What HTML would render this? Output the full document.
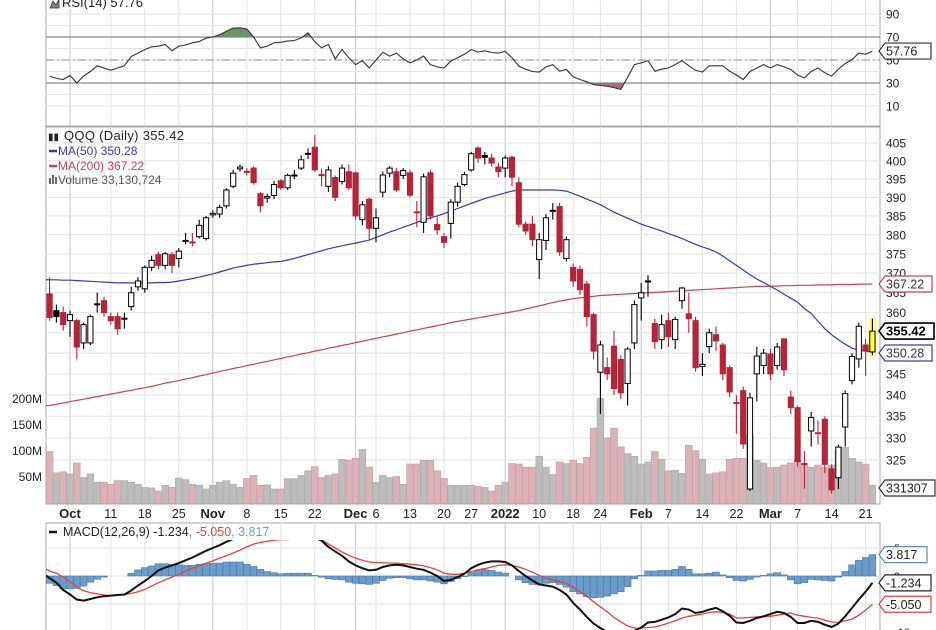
<!DOCTYPE html>
<html><head><meta charset="utf-8">
<style>
html,body{margin:0;padding:0;background:#fff;}
svg{display:block;font-family:"Liberation Sans",sans-serif;}
</style></head>
<body>
<svg id="chart" width="936" height="630" viewBox="0 0 936 630" xmlns="http://www.w3.org/2000/svg">
<rect width="936" height="630" fill="#fff"/>
<g id="grid"></g>
<g id="rsi"></g>
<g id="vol"></g>
<g id="price"></g>
<g id="macd"></g>
<g id="axes"></g>
</svg>
<script>
const opens=[364.7,360.5,360.0,358.0,358.0,352.5,352.5,362.0,363.0,359.0,359.0,358.5,361.5,366.5,366.0,371.5,374.8,372.0,374.8,373.8,378.3,378.0,379.5,379.0,385.3,385.5,387.7,393.0,397.8,397.0,398.0,391.0,389.8,390.5,394.5,392.6,396.0,398.0,402.0,403.8,396.2,393.0,395.4,394.3,397.0,396.7,384.0,389.5,381.7,391.4,396.6,397.0,396.0,396.7,386.0,383.3,396.7,382.7,379.5,383.0,388.7,393.5,397.5,403.6,401.5,400.8,398.3,398.0,401.0,394.0,382.8,382.8,373.5,378.5,386.5,387.5,373.8,371.5,371.0,367.2,359.5,345.4,346.5,351.7,348.5,342.7,352.5,363.7,367.8,357.3,353.3,358.0,353.3,363.0,359.7,358.0,346.8,351.6,354.5,352.0,346.5,338.2,341.0,318.5,345.0,347.0,349.8,347.0,353.5,339.5,337.0,324.2,331.6,331.2,334.3,323.0,321.0,332.5,343.4,348.6,352.0,350.3];
const closes=[358.8,359.0,357.0,359.5,351.5,357.0,359.0,362.2,360.0,358.0,356.0,358.6,365.0,368.0,371.5,373.3,372.0,375.0,372.0,375.7,378.5,378.1,382.5,384.5,385.7,387.3,392.0,396.6,398.3,397.1,394.0,387.7,390.2,393.5,392.6,396.0,396.1,400.3,402.1,397.5,396.0,397.5,390.0,398.0,392.6,385.0,388.0,381.7,384.5,396.1,398.0,392.0,397.3,390.6,386.1,395.6,385.0,381.3,378.0,388.7,393.0,396.2,402.0,400.8,401.0,399.4,397.0,400.8,395.5,382.8,381.0,378.7,378.7,384.5,386.3,375.5,378.7,368.0,365.8,359.0,350.5,352.0,345.0,341.5,340.5,351.0,362.0,365.0,368.0,352.8,357.0,354.0,358.3,366.2,358.5,346.5,347.3,355.0,353.0,345.0,340.7,338.0,328.6,339.3,349.3,350.0,345.0,351.5,346.0,337.0,324.6,324.0,334.7,331.0,324.0,318.3,327.9,340.3,349.2,356.6,350.5,355.4];
const highs=[368.9,362.0,361.5,360.5,358.5,357.5,359.5,365.0,364.0,360.0,360.0,360.0,366.5,369.0,372.0,374.5,375.5,375.5,375.5,376.5,380.5,380.5,384.0,385.0,386.5,388.0,392.5,397.5,399.0,398.0,398.5,391.5,391.0,394.5,395.0,396.5,397.5,401.5,403.5,407.3,397.8,398.5,396.0,399.0,399.0,397.0,389.0,390.0,387.0,397.0,398.5,398.0,398.0,397.5,389.0,396.5,397.5,385.0,380.5,389.5,394.0,397.0,402.5,404.0,402.5,402.0,399.5,401.5,401.5,395.5,383.5,385.0,380.5,385.5,388.5,388.5,379.5,372.5,372.0,368.0,360.0,353.0,349.0,355.5,349.5,351.5,363.0,367.5,369.5,358.5,359.5,360.0,359.0,366.5,365.0,359.0,350.0,356.0,356.5,352.5,347.0,340.0,342.0,340.5,351.5,351.0,351.0,352.5,353.5,341.0,337.5,327.0,336.0,334.0,335.0,324.0,328.5,341.0,350.0,357.5,353.5,358.5];
const lows=[358.0,357.5,355.5,354.0,348.5,351.0,352.0,360.0,359.0,357.0,354.5,356.0,360.5,365.5,365.0,370.5,371.0,371.0,370.0,371.5,377.5,377.0,379.0,378.5,384.5,384.5,387.0,392.5,397.0,396.0,393.5,386.0,388.5,389.5,392.0,392.0,395.0,397.5,400.5,397.0,393.0,391.5,389.0,393.5,392.0,384.0,382.5,378.5,378.0,390.0,395.5,391.5,395.0,390.0,382.0,380.5,384.0,380.0,376.5,379.0,387.5,393.0,397.0,399.5,399.0,398.5,395.5,395.5,393.0,382.0,380.0,377.0,368.5,376.0,384.0,374.5,373.0,366.5,364.5,356.5,348.5,335.5,343.5,340.0,339.0,337.5,351.0,358.0,364.0,351.0,351.0,351.5,351.0,361.0,355.0,345.5,344.5,350.0,350.5,343.5,339.5,331.0,327.5,318.0,338.5,345.0,343.5,346.0,344.5,335.5,323.5,318.5,328.0,328.5,322.0,317.5,318.5,328.0,342.5,346.5,344.5,349.5];
const volumes=[98,57,59,55,76,48,55,39,39,35,42,42,39,35,29,28,22,33,29,47,44,35,33,26,33,39,42,35,29,46,52,33,34,26,26,46,46,52,61,69,48,52,55,83,81,85,102,68,39,52,48,50,35,74,74,81,81,61,46,33,33,33,33,31,29,22,33,39,75,74,68,68,89,68,54,78,75,81,75,87,143,200,124,143,107,94,89,74,78,98,83,61,62,56,110,100,83,55,57,59,83,85,85,130,81,76,67,68,72,76,81,72,68,72,68,72,100,106,85,78,74,33];
const ma50=[368.3,368.3,368.2,368.2,368.1,368.0,367.9,367.8,367.7,367.6,367.5,367.5,367.5,367.5,367.5,367.5,367.6,367.6,367.7,368.0,368.3,368.6,369.0,369.4,369.8,370.3,370.8,371.3,371.7,372.0,372.3,372.5,372.7,372.9,373.0,373.4,373.8,374.3,374.8,375.3,375.8,376.3,376.7,377.1,377.5,377.8,378.2,378.6,379.3,380.0,380.7,381.3,382.0,382.6,383.3,383.9,384.5,385.0,385.6,386.3,387.0,387.7,388.4,389.0,389.7,390.2,390.7,391.2,391.7,392.0,392.0,392.0,392.0,392.0,392.0,391.9,391.7,391.0,390.3,389.5,388.8,388.0,387.0,386.0,385.2,384.4,383.6,382.8,382.2,381.6,381.0,380.3,379.7,379.0,378.2,377.5,376.8,376.2,375.5,374.4,373.2,372.0,370.8,369.6,368.5,367.6,366.6,365.7,364.6,363.6,362.6,361.0,359.8,357.8,356.0,354.5,353.3,352.2,351.2,350.8,350.5,350.28];
const ma200=[337.5,337.8,338.1,338.4,338.7,339.0,339.3,339.6,339.9,340.2,340.5,340.8,341.1,341.4,341.7,342.0,342.4,342.8,343.1,343.4,343.8,344.1,344.5,344.8,345.2,345.6,345.9,346.3,346.6,347.0,347.3,347.7,348.0,348.4,348.7,349.1,349.4,349.8,350.1,350.5,350.8,351.2,351.5,351.9,352.2,352.6,352.9,353.3,353.6,354.0,354.3,354.7,355.0,355.4,355.7,356.1,356.4,356.8,357.1,357.5,357.8,358.1,358.4,358.7,359.0,359.3,359.6,359.9,360.2,360.5,360.9,361.3,361.7,362.1,362.5,362.9,363.2,363.5,363.7,363.9,364.1,364.3,364.4,364.5,364.6,364.7,364.8,364.9,365.0,365.1,365.2,365.3,365.4,365.5,365.6,365.7,365.8,365.9,366.0,366.1,366.2,366.3,366.4,366.5,366.6,366.6,366.7,366.7,366.8,366.8,366.9,366.9,366.9,367.0,367.0,367.0,367.1,367.1,367.1,367.2,367.2,367.22];
const rsi=[36,34,33,36.5,30,36,40,45,43,41,43,45,53,56,59,61.5,62,63.5,58,62,63,65,66,69,70,72,75,77.8,78,77,70,60.5,62,65,65.5,66.4,67,69.2,73.6,66,60.5,63.5,51,59,52,46,49.5,43,50,56.7,53.4,56,51,47.5,50,53.4,46,44,43,49,52,55,59,57,58,56.5,56,57.5,52,44.8,42,40,39.6,44,46,40.3,41.7,35.4,33,31,28.5,27.8,27.2,26,24.4,35,46,47.5,49.5,40.3,42,43,46,49.5,45,41,39.6,45,45,45,40.3,37,33,40,43,46,43,46,44,41.7,37,34.4,40,43,39,36,42,47,50.3,56,55,57.76];
const macdLine=[-0.4,-1.2,-2.5,-3.3,-4.2,-4.4,-4.1,-3.8,-3.6,-3.5,-3.4,-3.3,-2.6,-1.7,-0.9,0.0,1.0,1.5,1.9,2.3,2.8,3.3,3.9,4.5,5.0,5.5,6.1,6.6,7.1,7.3,7.4,7.2,7.0,7.0,6.9,7.0,7.1,7.2,7.3,6.9,6.3,5.2,4.4,3.6,2.6,1.9,1.4,1.0,1.1,1.6,1.9,2.0,1.9,1.6,1.3,1.1,0.6,0.0,-0.9,-0.7,-0.2,0.4,1.4,2.0,2.4,2.6,2.6,2.5,1.9,0.9,0.0,-0.8,-1.5,-1.7,-1.9,-2.5,-3.3,-4.8,-6.0,-7.3,-8.5,-9.3,-10.0,-10.6,-11.0,-10.8,-9.8,-9.2,-8.3,-8.2,-7.8,-7.4,-6.8,-5.8,-6.0,-6.6,-6.4,-6.0,-5.7,-6.3,-7.1,-8.3,-8.4,-8.0,-7.5,-7.2,-6.8,-6.4,-6.6,-7.3,-8.4,-8.4,-8.0,-8.2,-8.7,-9.1,-8.5,-7.2,-5.7,-4.2,-2.8,-1.234];
const signalLine=[0.9,0.5,-0.2,-1.0,-2.0,-2.6,-3.0,-3.2,-3.4,-3.5,-3.4,-3.3,-3.1,-2.8,-2.4,-1.8,-1.2,-0.7,-0.2,0.3,0.9,1.4,1.8,2.3,2.7,3.2,3.6,4.1,4.6,5.2,5.7,6.0,6.2,6.4,6.5,6.5,6.6,6.7,6.8,6.8,6.5,5.7,5.0,4.3,3.7,3.2,2.8,2.5,2.4,2.4,2.3,2.3,2.2,2.1,2.0,1.8,1.5,1.1,0.5,0.3,0.3,0.5,0.8,1.1,1.3,1.6,1.9,2.0,1.9,1.6,1.2,0.7,0.1,-0.4,-0.7,-1.0,-1.3,-2.0,-2.8,-3.6,-4.6,-5.5,-6.4,-7.4,-8.2,-8.9,-9.3,-9.3,-9.2,-9.1,-8.8,-8.4,-8.0,-7.5,-7.2,-7.0,-6.8,-6.5,-6.4,-6.5,-6.8,-7.5,-7.5,-7.4,-7.3,-7.3,-7.2,-7.0,-6.8,-6.6,-7.0,-7.2,-7.4,-7.5,-7.9,-8.2,-8.3,-8.0,-7.7,-7.0,-6.1,-5.05];
const priceTicks=[405,400,395,390,385,380,375,370,365,360,345,340,335,330,325];
const volTicks=[200,150,100,50];
const volTickLabels=["200M","150M","100M","50M"];
const rsiTicks=[90,70,50,30,10];
const rsiTickLabels=["90","70","50","30","10"];
const macdTicks=[5,0,-10];
const dateIdx=[3,9,14,19,24,29,34,39,45,48,53,58,62,67,72,77,81,87,91,96,101,106,110,115,120];
const dateLabels=["Oct","11","18","25","Nov","8","15","22","Dec","6","13","20","27","2022","10","18","24","Feb","7","14","22","Mar","7","14","21"];
const monthIdx=[3,24,45,67,87,106];

const NS="http://www.w3.org/2000/svg";
const L=46,R=880;
function xAt(i){return 49.6+6.8*i;}
function yP(p){return 143+1440*Math.log(405/p);}
function yV(v){return 502.5-v*0.52;}
function yR(v){return 60-(v-50)*1.15;}
function yM(v){return 576-v*5.6;}
function mk(parent,tag,attrs,text){const e=document.createElementNS(NS,tag);for(const k in attrs)e.setAttribute(k,attrs[k]);if(text!==undefined)e.textContent=text;document.getElementById(parent).appendChild(e);return e;}

// defs/clips
const defs=document.createElementNS(NS,'defs');
defs.innerHTML='<clipPath id="cMain"><rect x="46" y="127" width="834" height="377"/></clipPath><clipPath id="cMacd"><rect x="46" y="540" width="834" height="90"/></clipPath><clipPath id="cRsiHi"><rect x="46" y="0" width="834" height="'+yR(70)+'"/></clipPath><clipPath id="cRsiLo"><rect x="46" y="'+yR(30)+'" width="834" height="40"/></clipPath>';
document.getElementById('chart').insertBefore(defs,document.getElementById('grid'));

// panel frames
let e;
e=mk('grid','rect',{x:L,y:-1,width:R-L,height:127,fill:'#fff',stroke:'#a8a8a8'});


e=mk('grid','rect',{x:L,y:127,width:R-L,height:377,fill:'#fff',stroke:'#a8a8a8'});


e=mk('grid','rect',{x:L,y:523,width:R-L,height:110,fill:'#fff',stroke:'#a8a8a8'});



// vertical grid
dateIdx.forEach(i=>{
  const isM=monthIdx.includes(i);
  [[0,126],[127,504],[523,630]].forEach(r=>{
    e=mk('grid','line',{x1:xAt(i),x2:xAt(i),y1:r[0],y2:r[1],stroke:isM?'#c4c4c4':'#e2e2e2','stroke-width':1});
    
    
  });
});
// horizontal price grid
for(let p=325;p<=405;p+=5){
  e=mk('grid','line',{x1:L,x2:R,y1:yP(p),y2:yP(p),stroke:'#e2e2e2'});
  
  
}
for(let v=10;v<=90;v+=10){
  e=mk('grid','line',{x1:L,x2:R,y1:yR(v),y2:yR(v),stroke:'#e6e6e6'});
  
  
}
[5,0,-5,-10].forEach(v=>{
  e=mk('grid','line',{x1:L,x2:R,y1:yM(v),y2:yM(v),stroke:'#e2e2e2'});
  
  
});

// RSI
[70,30].forEach(v=>{
  e=mk('rsi','line',{x1:L,x2:R,y1:yR(v),y2:yR(v),stroke:'#888','stroke-width':1.3});
  
  
});
e=mk('rsi','line',{x1:L,x2:R,y1:yR(50),y2:yR(50),stroke:'#888','stroke-dasharray':'8,3,2,3'});


let rp=rsi.map((v,i)=>xAt(i).toFixed(1)+','+yR(v).toFixed(1)).join(' L');
e=mk('rsi','path',{d:'M'+xAt(0)+','+yR(70)+' L'+rp+' L'+xAt(rsi.length-1)+','+yR(70)+'Z',fill:'#6b936b','clip-path':'url(#cRsiHi)'});


e=mk('rsi','path',{d:'M'+xAt(0)+','+yR(30)+' L'+rp+' L'+xAt(rsi.length-1)+','+yR(30)+'Z',fill:'#a97070','clip-path':'url(#cRsiLo)'});


e=mk('rsi','path',{d:'M'+rp,fill:'none',stroke:'#333','stroke-width':1.1});



// volume
volumes.forEach((v,i)=>{
  const prev=i===0?366:closes[i-1];
  const down=closes[i]<prev;
  e=mk('vol','rect',{x:xAt(i)-3.4,y:yV(v),width:6.8,height:Math.max(0,503.5-yV(v)),fill:down?'#dbb3b7':'#bdbdbd',stroke:down?'#c99aa0':'#a9a9a9','stroke-width':0.6});
  
  
});

// last candle highlight
const last=closes.length-1;
e=mk('price','rect',{x:xAt(last)-4,y:yP(highs[last])-1,width:8,height:yP(lows[last])-yP(highs[last])+2,fill:'#ffff80'});



// moving averages
function linePath(arr,fy){return 'M'+arr.map((v,i)=>xAt(i).toFixed(1)+','+fy(v).toFixed(1)).join(' L');}
e=mk('price','path',{d:'M'+L+','+yP(ma200[0])+' L'+linePath(ma200,yP).slice(1),fill:'none',stroke:'#c94452','stroke-width':1.2,'clip-path':'url(#cMain)'});


e=mk('price','path',{d:'M'+L+','+yP(ma50[0])+' L'+linePath(ma50,yP).slice(1),fill:'none',stroke:'#3a3aa6','stroke-width':1.2,'clip-path':'url(#cMain)'});



// candles
closes.forEach((c,i)=>{
  const o=opens[i],h=highs[i],l=lows[i];
  const prev=i===0?366:closes[i-1];
  const col=c>=prev?'#000':'#b3263a';
  const x=xAt(i);
  e=mk('price','line',{x1:x,x2:x,y1:yP(h),y2:yP(l),stroke:col,'stroke-width':1.1});
  
  
  const top=yP(Math.max(o,c)),bot=yP(Math.min(o,c));
  const filled=c<o;
  let fill=filled?col:'#fff';
  if(i===last)fill='#ffff40';
  e=mk('price','rect',{x:x-2.6,y:top,width:5.2,height:Math.max(1,bot-top),fill:fill,stroke:col,'stroke-width':1});
  
  
});

// MACD
macdLine.forEach((m,i)=>{
  const hv=m-signalLine[i];
  const y0=yM(0),y1=yM(hv);
  e=mk('macd','rect',{x:xAt(i)-3.4,y:Math.min(y0,y1),width:6.8,height:Math.abs(y1-y0),fill:'#6c9cc9',stroke:'#4a78a8','stroke-width':0.6,'clip-path':'url(#cMacd)'});
  
  
});
e=mk('macd','path',{d:'M'+L+','+yM(signalLine[0]+0.3)+' L'+linePath(signalLine,yM).slice(1),fill:'none',stroke:'#e0443a','stroke-width':1.3,'clip-path':'url(#cMacd)'});


e=mk('macd','path',{d:'M'+L+','+yM(macdLine[0]+0.5)+' L'+linePath(macdLine,yM).slice(1),fill:'none',stroke:'#111','stroke-width':2,'clip-path':'url(#cMacd)'});



// axes labels
const AX=886;
priceTicks.forEach(p=>{
  e=mk('axes','text',{x:AX,y:yP(p)+4.5,'font-size':12,fill:'#222'},String(p));
  
  
});
volTicks.forEach((v,k)=>{
  e=mk('axes','text',{x:42,y:yV(v)+4.5,'font-size':12,fill:'#222','text-anchor':'end'},volTickLabels[k]);
  
  
});
rsiTicks.forEach((v,k)=>{
  e=mk('axes','text',{x:AX,y:yR(v)+4.5,'font-size':12,fill:'#222'},rsiTickLabels[k]);
  
  
});
macdTicks.forEach(v=>{
  e=mk('axes','text',{x:AX+8,y:yM(v)+4,'font-size':11,fill:'#222'},String(v));
  
  
});
dateIdx.forEach((i,k)=>{
  const isM=monthIdx.includes(i)||dateLabels[k]==='2022';
  e=mk('axes','text',{x:xAt(i),y:518,'font-size':isM?13:12.5,'font-weight':isM?'bold':'normal','text-anchor':'middle',fill:'#222'},dateLabels[k]);
  
  
});

// value tags
function tag(y,txt,border,color,bold,w,name){
  const x=879;
  const g=document.createElementNS(NS,'g');
  
  
  document.getElementById('axes').appendChild(g);
  const p=document.createElementNS(NS,'path');
  p.setAttribute('d','M'+x+','+y+' L'+(x+6)+','+(y-8)+' L'+(x+w)+','+(y-8)+' L'+(x+w)+','+(y+8)+' L'+(x+6)+','+(y+8)+'Z');
  p.setAttribute('fill','#fff');p.setAttribute('stroke',border);p.setAttribute('stroke-width',bold?1.6:1.2);
  g.appendChild(p);
  const t=document.createElementNS(NS,'text');
  t.setAttribute('x',x+7);t.setAttribute('y',y+4.5);t.setAttribute('font-size',bold?13:12.5);
  if(bold)t.setAttribute('font-weight','bold');
  t.setAttribute('fill',color);t.textContent=txt;g.appendChild(t);
}
tag(yR(57.76),'57.76','#333','#222',false,52,'rsi-value-tag');
tag(yP(367.22),'367.22','#c94452','#333',false,53,'ma200-value-tag');
tag(yP(355.42),'355.42','#000','#000',true,55,'price-value-tag');
tag(yP(350.28)+1,'350.28','#3a3aa6','#333',false,53,'ma50-value-tag');
tag(488,'331307','#333','#222',false,56,'volume-value-tag');
tag(yM(3.817),'3.817','#5b8ac0','#222',false,48,'histogram-value-tag');
tag(yM(-1.234),'-1.234','#222','#222',false,52,'macd-value-tag');
tag(yM(-5.05),'-5.050','#e0443a','#222',false,52,'signal-value-tag');
</script>
<svg width="0" height="0"></svg>
<div style="position:absolute;left:0;top:0;width:936px;height:630px;pointer-events:none;">
<svg width="936" height="630" style="position:absolute;left:0;top:0;font-family:'Liberation Sans',sans-serif;">
<g>
<rect x="47" y="-3" width="115" height="12" fill="#fff"/>
<path d="M50,8 L53,1 L56,5 L59,-1 L59,8Z" fill="#6b936b" stroke="#333" stroke-width="0.8"/>
<text x="62" y="7" font-size="13" fill="#222">RSI(14) 57.76</text>
</g>
<g>
<text x="48" y="140" font-size="10" fill="#222">▮▮</text>
<text x="64" y="140" font-size="13" fill="#222" letter-spacing="0.3">QQQ (Daily) 355.42</text>
<line x1="49" y1="151" x2="57" y2="151" stroke="#3a3aa6" stroke-width="2.5"/>
<text x="58" y="155" font-size="12" fill="#3a3aa6">MA(50) 350.28</text>
<line x1="49" y1="166" x2="57" y2="166" stroke="#c94452" stroke-width="2.5"/>
<text x="58" y="170" font-size="12" fill="#c94452">MA(200) 367.22</text>
<rect x="49" y="178" width="2" height="6" fill="#666"/><rect x="52" y="175" width="2" height="9" fill="#666"/><rect x="55" y="177" width="2" height="7" fill="#666"/>
<text x="58" y="184" font-size="12" fill="#555">Volume 33,130,724</text>
</g>
<g>
<line x1="49" y1="532" x2="57" y2="532" stroke="#111" stroke-width="2.5"/>
<text x="63" y="536" font-size="12.5" fill="#222">MACD(12,26,9) -1.234<tspan fill="#e0443a">, -5.050</tspan><tspan fill="#6c9cc9">, 3.817</tspan></text>
</g>
</svg>
</div>
</body></html>
